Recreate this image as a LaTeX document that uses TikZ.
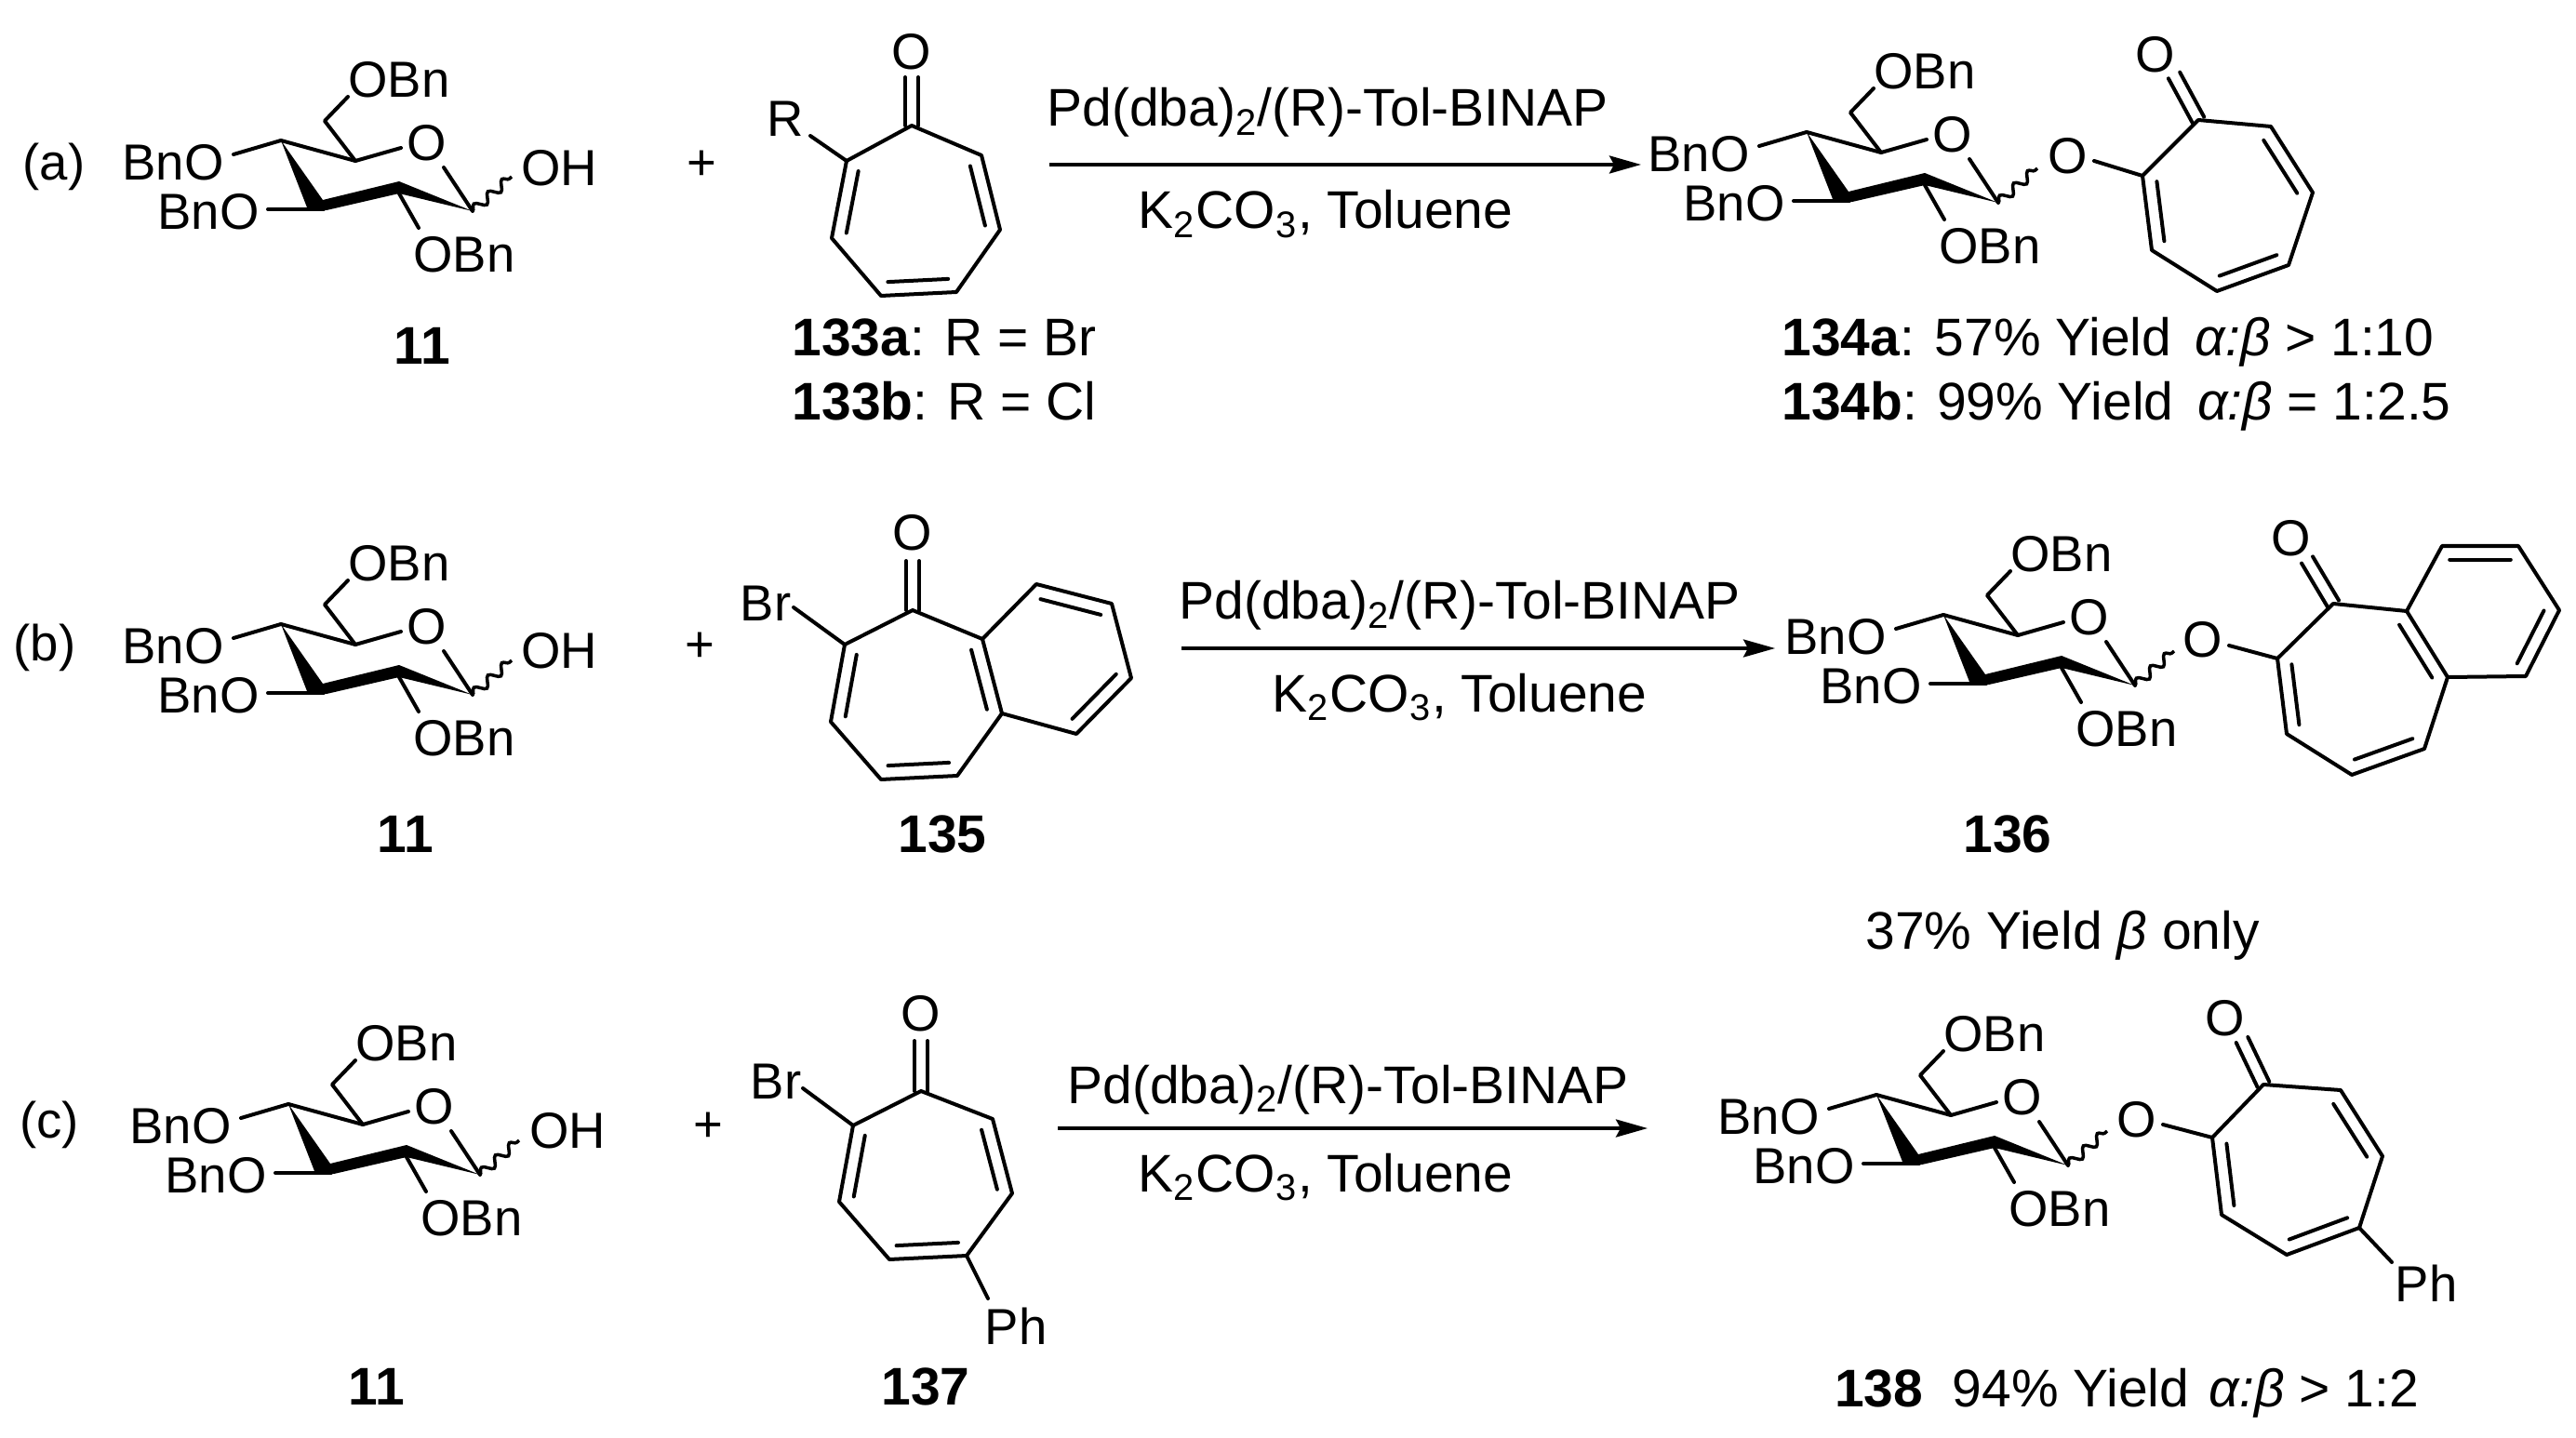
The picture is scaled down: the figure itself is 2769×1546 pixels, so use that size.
\documentclass[tikz,border=0pt]{standalone}
\usepackage{fontspec}
\setmainfont{Liberation Sans}
\usetikzlibrary{calc,arrows.meta,decorations.pathmorphing}

\tikzset{
  bond/.style={line width=.04cm,line cap=round,line join=round},
  wavy/.style={line width=.035cm,decorate,decoration={snake,amplitude=.05cm,segment length=.2cm}},
  rxn/.style={line width=.035cm,-{Stealth[length=.34cm,width=.19cm,inset=.05cm]}},
  atom/.style={inner sep=0pt,font=\fontsize{15.5}{18}\selectfont},
  txt/.style={inner sep=0pt,anchor=base,font=\fontsize{16.2}{19}\selectfont},
  num/.style={inner sep=0pt,font=\fontsize{16.2}{19}\selectfont\bfseries},
  sugar/.pic={
    \coordinate (-c4) at (0,0);
    \coordinate (-c5) at (80,22);
    \coordinate (-c6) at (47,-21);
    \coordinate (-c1) at (206,76);
    \coordinate (-c2) at (127,57);
    \coordinate (-e6) at (72,-47);
    \coordinate (-e5) at (129,8);
    \coordinate (-e1) at (175,29);
    \coordinate (-e4) at (-51,15);
    \coordinate (-c3) at (46,74);
    \coordinate (-e3) at (-14,74);
    \coordinate (-e2) at (148,94);
    \coordinate (-w) at (248,39);
    \node[atom] (-o6) at (127,-65) {OBn};
    \node[atom] (-o) at (157,3) {O};
    \node[atom] (-o4) at (-116,24) {BnO};
    \node[atom] (-o3) at (-78,77) {BnO};
    \node[atom] (-o2) at (197,123) {OBn};
    \fill[line join=round] (-c4) -- (28,72) -- (49,75) -- (-c2) -- (-c1) -- (127,44) -- (45,64) -- cycle;
    \draw[bond] (-c4) -- (-c5) -- (-e5);
    \draw[bond] (-c5) -- (-c6) -- (-e6);
    \draw[bond] (-e1) -- (-c1);
    \draw[bond] (-c4) -- (-e4);
    \draw[bond] (-c3) -- (-e3);
    \draw[bond] (-c2) -- (-e2);
    \draw[wavy] (-c1) -- (-w);
  }
}

% ring points, inner line of a double bond, C=O
\newcommand{\ringpts}[2]{\foreach \x/\y [count=\k] in {#2} \coordinate (#1\k) at (\x,\y);}
\newcommand{\inbond}[2]{\draw[bond] ($(#1)!.1!(#2)!.145cm!90:(#2)$) -- ($(#2)!.1!(#1)!.145cm!-90:(#1)$);}
\newcommand{\dblbond}[2]{%
  \draw[bond] ($(#1)!.07cm!90:(#2)$) -- ($(#2)!.07cm!-90:(#1)$);
  \draw[bond] ($(#1)!.07cm!-90:(#2)$) -- ($(#2)!.07cm!90:(#1)$);}
\newcommand{\seven}[1]{%
  \draw[bond] (#11) -- (#12) -- (#13) -- (#14) -- (#15) -- (#16) -- (#17) -- cycle;
  \inbond{#12}{#13}\inbond{#14}{#15}\inbond{#16}{#17}}

\begin{document}
\begin{tikzpicture}[x=.01cm,y=-.01cm]
  \useasboundingbox (0,0) rectangle (2769,1546);

  % (a)
  \node[atom] (tagA) at (58,179) {(a)};
  \pic (sugA) at (302,151) {sugar};
  \node[atom] (ohA) at (601,181) {OH};
  \node[num] (numA) at (454,372) {11};
  \node[atom] (plusA) at (754,178) {+};
  \ringpts{ra}{980/135,910/173,894/256,947/318,1028/314,1075/247,1055/167}
  \seven{ra}
  \node[atom] (oxRa) at (980,56) {O};
  \coordinate (eoRa) at (980,83);
  \dblbond{ra1}{eoRa}
  \node[atom] (rRa) at (844,128) {R};
  \coordinate (erRa) at (871,146);
  \draw[bond] (ra2) -- (erRa);
  \node[txt] (lab133a) at (1015,383) {\textbf{133a}: R = Br};
  \node[txt] (lab133b) at (1015,452) {\textbf{133b}: R = Cl};

  \coordinate (arrAs) at (1128,177);
  \coordinate (arrAe) at (1764,177);
  \draw[rxn] (arrAs) -- (arrAe);
  \node[txt] (topA) at (1427,136) {Pd(dba)\textsubscript{2}/(R)-Tol-BINAP};
  \node[txt] (botA) at (1425,246) {K\textsubscript{2}CO\textsubscript{3}, Toluene};

  \pic (sugPa) at (1942,142) {sugar};
  \ringpts{pa}{2363/129,2303/189,2313/269,2383/313,2460/285,2486/207,2441/136}
  \seven{pa}
  \node[atom] (oxPa) at (2317,59) {O};
  \coordinate (eoPa) at (2337,81);
  \dblbond{pa1}{eoPa}
  \node[atom] (lnkPa) at (2223,168) {O};
  \coordinate (elPa) at (2251,173);
  \draw[bond] (elPa) -- (pa2);
  \node[txt] (lab134a) at (2266,383) {\textbf{134a}: 57\% Yield\hspace{.45em}\textit{α:β} > 1:10};
  \node[txt] (lab134b) at (2275,452) {\textbf{134b}: 99\% Yield\hspace{.45em}\textit{α:β} = 1:2.5};

  % (b)
  \node[atom] (tagB) at (48,696) {(b)};
  \pic (sugB) at (302,671) {sugar};
  \node[atom] (ohB) at (601,700) {OH};
  \node[num] (numB) at (436,897) {11};
  \node[atom] (plusB) at (752,696) {+};
  \ringpts{rb}{981/656,908/693,893/776,947/838,1029/834,1077/767,1056/687}
  \seven{rb}
  \node[atom] (oxRb) at (981,573) {O};
  \coordinate (eoRb) at (981,603);
  \dblbond{rb1}{eoRb}
  \node[atom] (brRb) at (823,649) {Br};
  \coordinate (erRb) at (853,653);
  \draw[bond] (rb2) -- (erRb);
  \ringpts{bb}{1056/687,1114/628,1195/649,1216/729,1157/789,1077/767}
  \draw[bond] (bb1) -- (bb2) -- (bb3) -- (bb4) -- (bb5) -- (bb6);
  \inbond{bb3}{bb2}\inbond{bb5}{bb4}
  \node[num] (num135) at (1013,897) {135};

  \coordinate (arrBs) at (1270,697);
  \coordinate (arrBe) at (1908,697);
  \draw[rxn] (arrBs) -- (arrBe);
  \node[txt] (topB) at (1569,666) {Pd(dba)\textsubscript{2}/(R)-Tol-BINAP};
  \node[txt] (botB) at (1569,765) {K\textsubscript{2}CO\textsubscript{3}, Toluene};

  \pic (sugPb) at (2089,661) {sugar};
  \ringpts{pb}{2508/649,2448/708,2458/789,2528/833,2606/805,2631/728,2587/657}
  \seven{pb}
  \node[atom] (oxPb) at (2463,579) {O};
  \coordinate (eoPb) at (2480,602);
  \dblbond{pb1}{eoPb}
  \node[atom] (lnkPb) at (2368,688) {O};
  \coordinate (elPb) at (2396,694);
  \draw[bond] (elPb) -- (pb2);
  \ringpts{bp}{2587/657,2625/587,2707/587,2751/656,2715/727,2631/728}
  \draw[bond] (bp1) -- (bp2) -- (bp3) -- (bp4) -- (bp5) -- (bp6);
  \inbond{bp3}{bp2}\inbond{bp5}{bp4}
  \node[num] (num136) at (2158,897) {136};
  \node[txt] (lab136) at (2217,1020) {37\% Yield \textit{β} only};

  % (c)
  \node[atom] (tagC) at (53,1209) {(c)};
  \pic (sugC) at (310,1187) {sugar};
  \node[atom] (ohC) at (610,1216) {OH};
  \node[num] (numC) at (405,1491) {11};
  \node[atom] (plusC) at (761,1212) {+};
  \ringpts{rc}{990/1173,917/1210,902/1292,956/1354,1039/1350,1088/1283,1067/1203}
  \seven{rc}
  \node[atom] (oxRc) at (990,1090) {O};
  \coordinate (eoRc) at (990,1119);
  \dblbond{rc1}{eoRc}
  \node[atom] (brRc) at (834,1163) {Br};
  \coordinate (erRc) at (863,1170);
  \draw[bond] (rc2) -- (erRc);
  \coordinate (ephRc) at (1062,1396);
  \draw[bond] (rc5) -- (ephRc);
  \node[atom] (phRc) at (1092,1426) {Ph};
  \node[num] (num137) at (995,1491) {137};

  \coordinate (arrCs) at (1137,1213);
  \coordinate (arrCe) at (1771,1213);
  \draw[rxn] (arrCs) -- (arrCe);
  \node[txt] (topC) at (1449,1186) {Pd(dba)\textsubscript{2}/(R)-Tol-BINAP};
  \node[txt] (botC) at (1425,1281) {K\textsubscript{2}CO\textsubscript{3}, Toluene};

  \pic (sugPc) at (2017,1177) {sugar};
  \ringpts{pc}{2433/1166,2378/1223,2388/1306,2458/1349,2536/1320,2561/1243,2516/1172}
  \seven{pc}
  \node[atom] (oxPc) at (2392,1095) {O};
  \coordinate (eoPc) at (2410,1118);
  \dblbond{pc1}{eoPc}
  \node[atom] (lnkPc) at (2297,1204) {O};
  \coordinate (elPc) at (2325,1209);
  \draw[bond] (elPc) -- (pc2);
  \coordinate (ephPc) at (2571,1357);
  \draw[bond] (pc5) -- (ephPc);
  \node[atom] (phPc) at (2608,1380) {Ph};
  \node[txt] (lab138) at (2286,1512) {\textbf{138} \ 94\% Yield\hspace{.38em}\textit{α:β} > 1:2};
\end{tikzpicture}
\end{document}
